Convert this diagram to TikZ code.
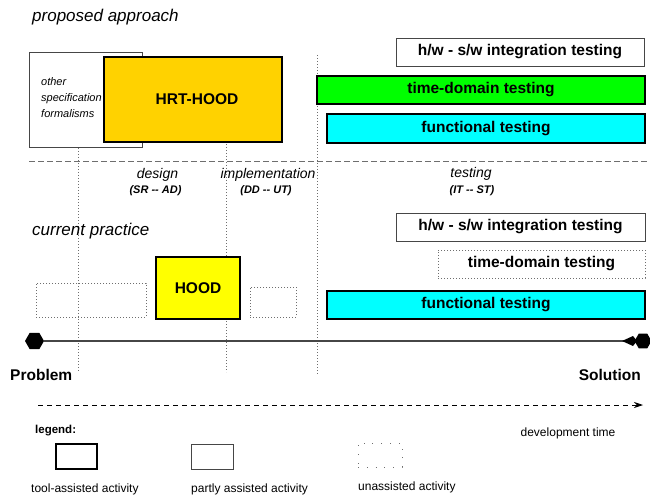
\documentclass[tikz,border=0pt]{standalone}
\usepackage{fontspec}
\setmainfont{Liberation Sans}
\usetikzlibrary{shapes.geometric,arrows.meta}

\definecolor{hrtgold}{RGB}{255,210,0}
\definecolor{hoodyellow}{RGB}{255,255,0}
\definecolor{tdgreen}{RGB}{0,255,0}
\definecolor{fncyan}{RGB}{0,255,255}
\definecolor{thinline}{RGB}{70,70,70}
\definecolor{guide}{RGB}{110,110,110}

\tikzset{
  box/.style={rectangle, inner sep=0pt, anchor=center},
  toolbox/.style={box, draw=black, line width=1.8pt},
  partbox/.style={box, draw=thinline, line width=0.8pt},
  freebox/.style={box, draw=guide, line width=0.8pt, dash pattern=on 0.8pt off 2.2pt},
  actlabel/.style={font=\bfseries\fontsize{15.5}{18}\selectfont},
  phase/.style={font=\itshape\fontsize{14}{16}\selectfont, anchor=base},
  phasecode/.style={font=\bfseries\itshape\fontsize{11}{13}\selectfont, anchor=base},
  heading/.style={font=\itshape\fontsize{17}{20}\selectfont, anchor=base west, inner sep=0pt},
  endlabel/.style={font=\bfseries\fontsize{15.5}{18}\selectfont, inner sep=0pt},
  legtext/.style={font=\fontsize{12}{14}\selectfont, anchor=base west, inner sep=0pt},
  guideline/.style={draw=guide, line width=0.8pt, dash pattern=on 0.8pt off 2.2pt},
  endpoint/.style={regular polygon, regular polygon sides=6, fill=black, inner sep=0pt, minimum size=19pt},
}

\begin{document}
\begin{tikzpicture}[x=1pt,y=-1pt]
\useasboundingbox (0,0) rectangle (650,500);
\clip (0,0) rectangle (650,500);

% phase boundaries
\coordinate (g1t) at (78,55);  \coordinate (g1b) at (78,372);
\coordinate (g2t) at (226,57); \coordinate (g2b) at (226,372);
\coordinate (g3t) at (317,55); \coordinate (g3b) at (317,374);
\draw[guideline] (g1t) -- (g1b);
\draw[guideline] (g2t) -- (g2b);
\draw[guideline] (g3t) -- (g3b);

% separator between the two rows
\coordinate (sepL) at (29,161);
\coordinate (sepR) at (650,161);
\draw[draw=guide, line width=0.9pt, dash pattern=on 6pt off 3pt] (sepL) -- (sepR);

% proposed approach
\node[heading] (hdA) at (32,22) {proposed approach};
\node[partbox, fill=white, minimum width=113pt, minimum height=95pt] (other) at (85.5,99.5) {};
\node[font=\itshape\fontsize{11}{16}\selectfont, align=left, anchor=west, inner sep=0pt] (otherT) at (41,97.5) {other\\specification\\formalisms};
\node[toolbox, fill=hrtgold, minimum width=178pt, minimum height=85pt, actlabel] (hrt) at (193,99.5) {\hspace{8pt}HRT-HOOD};
\node[partbox, fill=white, minimum width=248pt, minimum height=28pt, actlabel] (hwA) at (520,52) {h/w - s/w integration testing\hspace{14pt}};
\node[toolbox, fill=tdgreen, minimum width=328pt, minimum height=28pt, actlabel] (tdA) at (481,90) {time-domain testing};
\node[toolbox, fill=fncyan, minimum width=318pt, minimum height=29pt, actlabel] (fnA) at (486,128.5) {functional testing};

% phase names
\node[phase] (design) at (157.5,178) {design};
\node[phasecode] (designC) at (155.5,193) {(SR -{}- AD)};
\node[phase] (impl) at (268,178) {implementation};
\node[phasecode] (implC) at (266,193) {(DD -{}- UT)};
\node[phase] (test) at (471,177) {testing};
\node[phasecode] (testC) at (472,193) {(IT -{}- ST)};

% current practice
\node[heading] (hdB) at (32,235) {current practice};
\node[freebox, minimum width=110pt, minimum height=34pt] (pre) at (91,300) {};
\node[toolbox, fill=hoodyellow, minimum width=84pt, minimum height=62pt, actlabel] (hood) at (198,288) {HOOD};
\node[freebox, minimum width=46pt, minimum height=30pt] (post) at (273,302) {};
\node[partbox, fill=white, minimum width=249pt, minimum height=28pt, actlabel] (hwB) at (520.5,227) {h/w - s/w integration testing\hspace{14pt}};
\node[freebox, minimum width=207pt, minimum height=28pt, actlabel] (tdB) at (541.5,264) {time-domain testing\hspace{10pt}};
\node[toolbox, fill=fncyan, minimum width=318pt, minimum height=28pt, actlabel] (fnB) at (486,305) {functional testing};

% problem to solution line
\node[endpoint] (prob) at (34.5,341) {};
\node[endpoint, minimum size=17pt] (sol) at (643,341) {};
\draw[draw=thinline, line width=1.2pt] (prob) -- (sol);
\fill[black] (622,341) -- (633,336) -- (637,341) -- (633,346) -- cycle;
\node[endlabel, anchor=base west] (probT) at (10,380) {Problem};
\node[endlabel, anchor=base east] (solT) at (641,380) {Solution};

% development time axis
\coordinate (devL) at (38,405);
\coordinate (devR) at (643,405);
\draw[draw=black, line width=0.8pt, dash pattern=on 5pt off 4pt, -{Stealth[length=9pt,width=6pt]}] (devL) -- (devR);
\node[font=\fontsize{12}{14}\selectfont, anchor=base] (devT) at (568,436) {development time};

% legend
\node[font=\bfseries\fontsize{11.5}{14}\selectfont, anchor=base west, inner sep=0pt] (leg) at (35,433) {legend:};
\node[toolbox, minimum width=41pt, minimum height=25pt] (legA) at (76.5,456.5) {};
\node[partbox, minimum width=42pt, minimum height=25pt] (legB) at (212,456.5) {};
\node[box, draw=guide, line width=0.8pt, dash pattern=on 0.8pt off 8pt, minimum width=44pt, minimum height=24pt] (legC) at (380,455) {};
\node[legtext] (legAT) at (31,492) {tool-assisted activity};
\node[legtext] (legBT) at (191,492) {partly assisted activity};
\node[legtext] (legCT) at (358,490) {unassisted activity};
\end{tikzpicture}
\end{document}
